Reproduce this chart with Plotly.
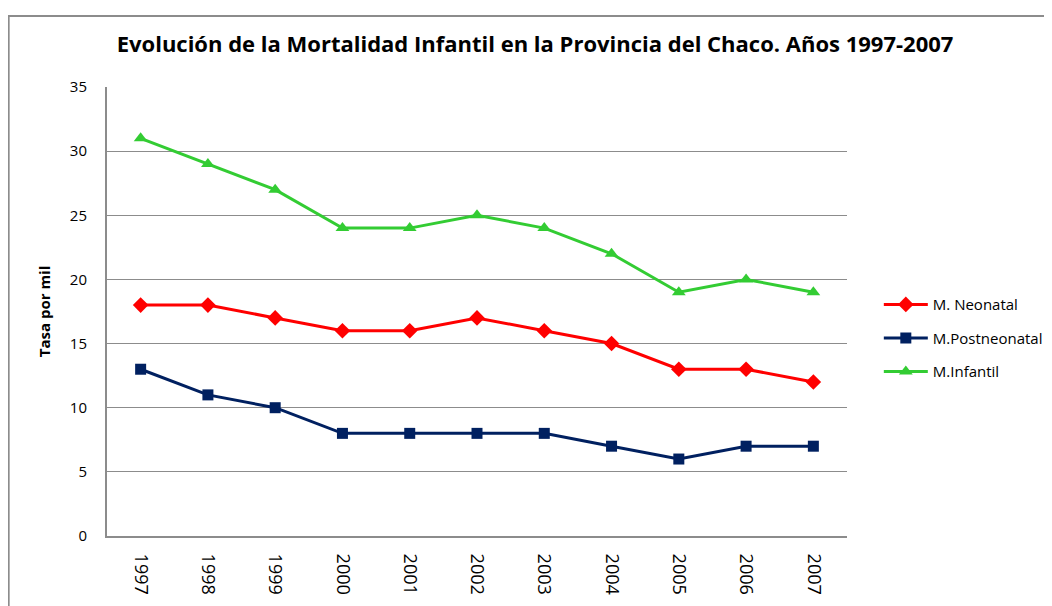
import plotly.graph_objects as go

# datos
anios = ["1997", "1998", "1999", "2000", "2001", "2002", "2003", "2004", "2005", "2006", "2007"]
neonatal = [18, 18, 17, 16, 16, 17, 16, 15, 13, 13, 12]
postneonatal = [13, 11, 10, 8, 8, 8, 8, 7, 6, 7, 7]
infantil = [31, 29, 27, 24, 24, 25, 24, 22, 19, 20, 19]

FONT = "'Open Sans', Lato, sans-serif"

series = [
    ("M. Neonatal", neonatal, "#FF0000", "diamond", 12),
    ("M.Postneonatal", postneonatal, "#002060", "square", 11),
    ("M.Infantil", infantil, "#33CC33", "triangle-up", 12),
]

fig = go.Figure()
for i, (nombre, valores, color, simbolo, tam) in enumerate(series):
    fig.add_trace(go.Scatter(
        x=anios,
        y=valores,
        name=nombre,
        mode="lines+markers",
        line=dict(color=color, width=3),
        marker=dict(symbol=simbolo, size=tam, color=color),
        legendgroup=str(i),
    ))

# marco exterior del gráfico
fig.add_shape(
    type="rect", xref="paper", yref="paper",
    x0=-0.1329, x1=1.3, y0=-0.25, y1=1.158,
    line=dict(color="#8c8c8c", width=2), fillcolor="rgba(0,0,0,0)",
)

fig.update_layout(
    width=1052,
    height=606,
    margin=dict(l=99, r=206, t=79, b=78),
    plot_bgcolor="white",
    paper_bgcolor="white",
    font=dict(family=FONT, size=14, color="black"),
    title=dict(
        text="<b>Evolución de la Mortalidad Infantil en la Provincia del Chaco. Años 1997-2007</b>",
        x=0.501, xanchor="center", y=0.94, yanchor="middle",
        font=dict(size=22, family=FONT),
    ),
    showlegend=True,
    legend=dict(
        x=1.043, y=0.552, xanchor="left", yanchor="top",
        font=dict(size=15, family=FONT),
        tracegroupgap=11,
        itemwidth=44,
        bgcolor="rgba(0,0,0,0)",
    ),
    xaxis=dict(
        type="category",
        range=[-0.5, 10.5],
        tickangle=90,
        showgrid=False,
        showline=True,
        linecolor="#8c8c8c",
        linewidth=2,
        ticks="",
        ticklabelstandoff=12,
        tickfont=dict(size=18),
    ),
    yaxis=dict(
        range=[0, 35],
        dtick=5,
        showgrid=True,
        gridcolor="#8c8c8c",
        gridwidth=1,
        showline=True,
        linecolor="#8c8c8c",
        linewidth=2,
        zeroline=False,
        ticks="",
        ticklabelstandoff=15,
        tickfont=dict(size=15),
        title=dict(text="<b>Tasa por mil</b>", font=dict(size=15), standoff=16),
    ),
)

fig.write_html("out.html")
